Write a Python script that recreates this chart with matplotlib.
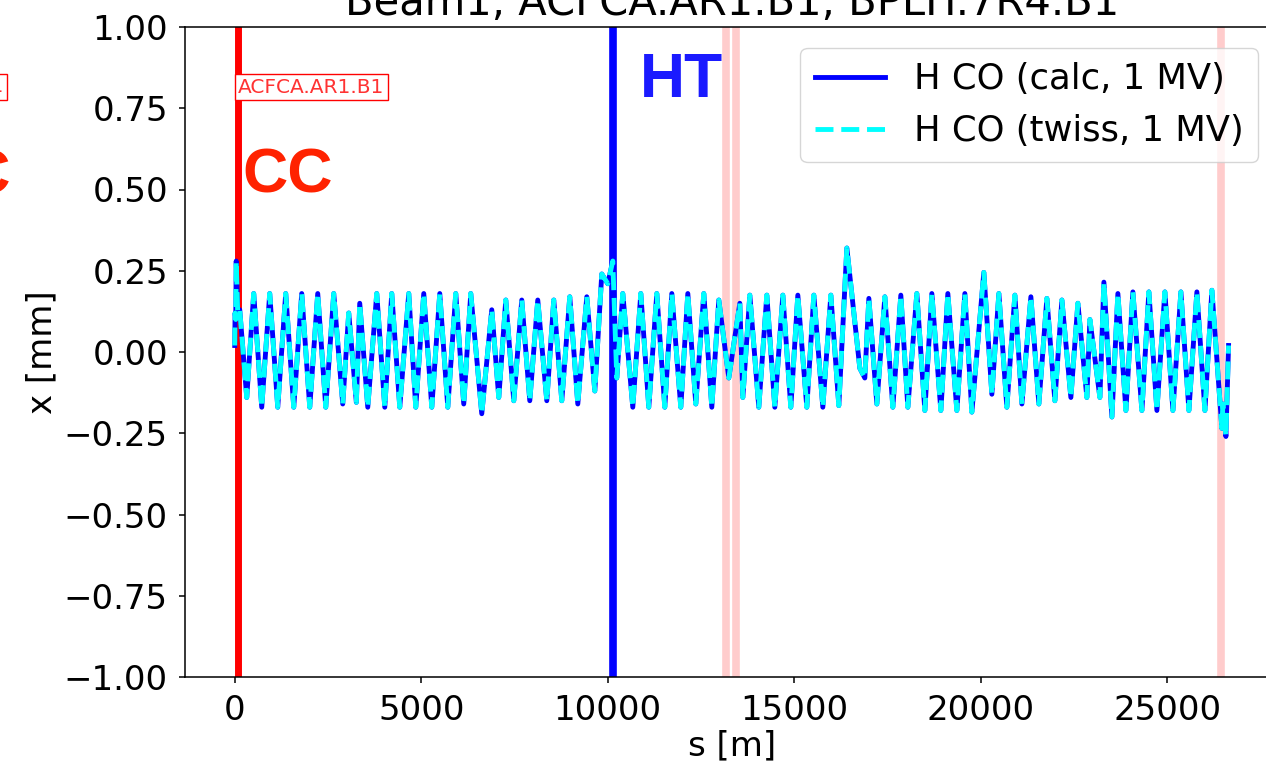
import matplotlib
matplotlib.use("Agg")
import matplotlib.pyplot as plt

# closed orbit: s [m], x [mm]
s_orbit = [0, 10, 27, 40, 80, 134, 322, 509, 724, 938, 1153, 1367, 1582, 1796,
           2011, 2225, 2440, 2654, 2895, 3056, 3260, 3351, 3566, 3807, 4022,
           4209, 4424, 4665, 4853, 5067, 5282, 5496, 5711, 5925, 6139, 6327,
           6622, 6890, 7078, 7266, 7480, 7694, 7909, 8123, 8365, 8552, 8767,
           8981, 9196, 9437, 9652, 9839, 10000, 10134, 10241, 10402, 10670,
           10885, 11099, 11314, 11528, 11716, 11957, 12145, 12359, 12574,
           12788, 12976, 13244, 13539, 13620, 13807, 14048, 14263, 14477,
           14692, 14906, 15094, 15335, 15523, 15764, 15979, 16193, 16408,
           16756, 16890, 16998, 17212, 17427, 17641, 17855, 18043, 18284,
           18499, 18686, 18928, 19115, 19357, 19571, 19759, 20080, 20295,
           20483, 20697, 20912, 21100, 21341, 21555, 21770, 21984, 22172,
           22413, 22601, 22842, 22923, 23191, 23298, 23513, 23673, 23888,
           24075, 24317, 24504, 24719, 24933, 25148, 25362, 25577, 25791,
           26006, 26193, 26461, 26488, 26569, 26640]
x_calc = [0.02, 0.12, 0.10, 0.28, 0.12, 0.13, -0.14, 0.18, -0.17, 0.18, -0.17,
          0.18, -0.17, 0.18, -0.17, 0.18, -0.17, 0.18, -0.16, 0.12, -0.155,
          0.15, -0.17, 0.18, -0.17, 0.18, -0.17, 0.18, -0.17, 0.18, -0.17,
          0.18, -0.17, 0.18, -0.16, 0.18, -0.19, 0.13, -0.14, 0.16, -0.15,
          0.16, -0.15, 0.16, -0.15, 0.16, -0.15, 0.17, -0.16, 0.17, -0.12,
          0.24, 0.21, 0.28, -0.08, 0.18, -0.17, 0.18, -0.17, 0.18, -0.17,
          0.18, -0.17, 0.18, -0.16, 0.18, -0.17, 0.16, -0.08, 0.15, -0.14,
          0.175, -0.17, 0.175, -0.17, 0.175, -0.17, 0.175, -0.17, 0.175,
          -0.17, 0.175, -0.165, 0.32, -0.05, -0.08, 0.165, -0.16, 0.17,
          -0.17, 0.175, -0.17, 0.18, -0.18, 0.18, -0.18, 0.18, -0.18, 0.18,
          -0.185, 0.245, -0.13, 0.18, -0.17, 0.175, -0.16, 0.17, -0.16,
          0.165, -0.15, 0.16, -0.14, 0.15, -0.14, 0.10, -0.14, 0.215, -0.20,
          0.18, -0.18, 0.185, -0.18, 0.185, -0.18, 0.185, -0.18, 0.185,
          -0.18, 0.185, -0.18, 0.19, -0.235, -0.16, -0.26, 0.02]
x_twiss = list(x_calc)

s_cc = 94          # ACFCA.AR1.B1
s_ht = 10134       # BPLH.7R4.B1
s_other = [13177, 13445, 26434]

plt.rcParams["font.family"] = ["DejaVu Sans"]
plt.rcParams["font.size"] = 24.5

fig = plt.figure(figsize=(12.66, 7.64), dpi=100)
ax = fig.add_axes([185 / 1266, 1 - 677 / 764, 1094 / 1266, 650 / 764])

for s in s_other:
    ax.axvline(s, color="red", alpha=0.2, lw=5.5, zorder=1)
ax.axvline(s_cc, color="red", lw=5, zorder=2)
ax.axvline(s_ht, color="blue", lw=5.5, zorder=2)

ax.plot(s_orbit, x_calc, color="blue", lw=3.5, label="H CO (calc, 1 MV)", zorder=3)
ax.plot(s_orbit, x_twiss, color="cyan", ls="--", lw=3.5,
        label="H CO (twiss, 1 MV)", zorder=4)

ax.text(s_cc, 0.815, "ACFCA.AR1.B1", color="red", alpha=0.8, fontsize=14.5,
        va="center", ha="left", zorder=5,
        bbox=dict(facecolor="white", edgecolor="red", pad=2.5))
ax.text(s_cc + 120, 0.49, "CC", color="#ff2200", fontsize=45,
        family="Liberation Sans", weight="bold", zorder=5)
ax.text(s_ht + 720, 0.785, "HT", color="#1a1aff", fontsize=45,
        family="Liberation Sans", weight="bold", zorder=5)

# bits of the neighbouring panel that stick into the crop
fig.text(4 / 1266, 1 - 87 / 764, "ACFCA.AR1.B1", color="red", alpha=0.8,
         fontsize=14.5, ha="right", va="center",
         bbox=dict(facecolor="white", edgecolor="red", pad=2.5))
fig.text(11 / 1266, 1 - 193 / 764, "CC", color="#ff2200", fontsize=45,
         family="Liberation Sans", weight="bold", ha="right", va="baseline")

ax.set_xlim(-1333, 27992)
ax.set_ylim(-1, 1)
ax.set_xticks([0, 5000, 10000, 15000, 20000, 25000])
ax.set_yticks([-1, -0.75, -0.5, -0.25, 0, 0.25, 0.5, 0.75, 1])
ax.tick_params(length=4.3, width=1.1, pad=8)
for sp in ax.spines.values():
    sp.set_linewidth(1.1)

ax.set_xlabel("s [m]", labelpad=2)
ax.set_ylabel("x [mm]", labelpad=4)
ax.set_title("Beam1, ACFCA.AR1.B1, BPLH.7R4.B1", fontsize=30, pad=9)
ax.legend(loc="upper right", fontsize=25.5, borderaxespad=0.6)

fig.savefig("out.png", dpi=100)
